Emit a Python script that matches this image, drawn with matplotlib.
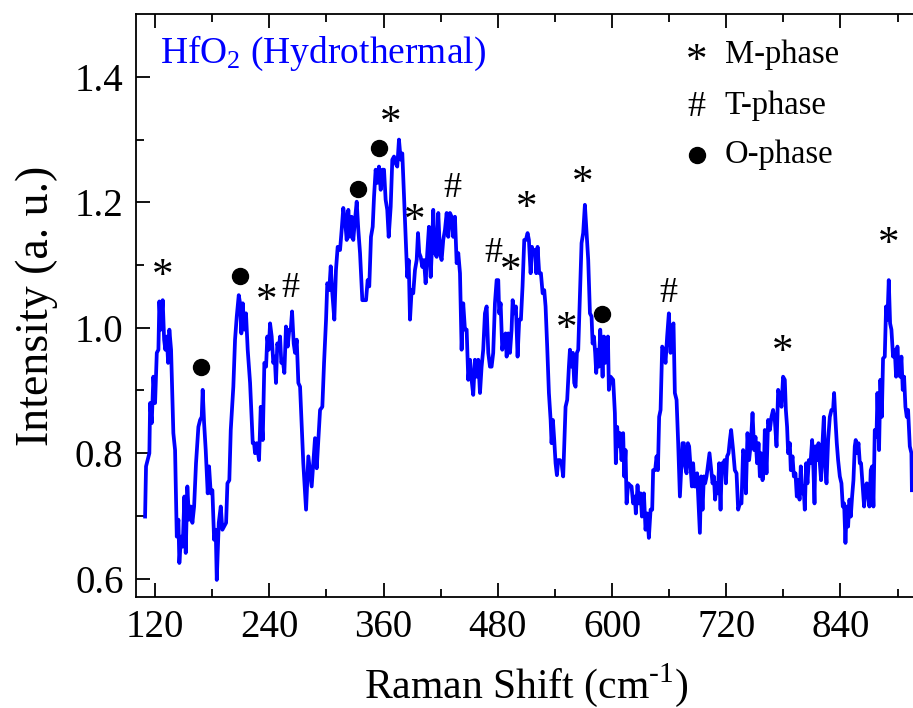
import numpy
import matplotlib.pyplot as plt

plt.rcParams['font.family'] = ['Liberation Serif', 'DejaVu Serif']
plt.rcParams['mathtext.fontset'] = 'custom'
plt.rcParams['mathtext.rm'] = 'Liberation Serif'

## spectrum (Raman shift in cm-1, intensity in a. u.)

shift = [
    109.5, 110.5, 114.0, 114.8, 116.5, 118.2, 120.0, 121.8, 123.5, 124.5, 126.0, 128.0, 129.5, 130.8,
    132.3, 133.7, 135.0, 136.8, 139.2, 141.0, 142.8, 144.5, 145.5, 147.3, 149.0, 150.8, 152.2, 153.9,
    155.7, 157.5, 159.2, 161.0, 163.0, 165.5, 167.3, 169.0, 170.0, 171.5, 173.2, 175.3, 176.7, 178.5,
    180.2, 182.0, 183.7, 184.8, 186.9, 189.0, 190.7, 192.5, 194.6, 196.0, 198.0, 199.5, 202.2, 204.0,
    205.8, 207.9, 209.3, 210.6, 212.1, 213.8, 215.5, 217.3, 219.8, 221.5, 222.6, 224.0, 225.0, 226.8,
    229.2, 231.0, 233.1, 234.8, 236.6, 237.9, 239.4, 240.8, 242.5, 244.2, 245.7, 247.0, 248.4, 249.9,
    251.3, 252.6, 254.1, 255.8, 257.5, 259.3, 261.0, 262.5, 263.9, 265.6, 267.0, 268.8, 270.5,
    272.3, 275.7, 278.6, 281.0, 284.5, 288.0, 289.8, 293.3, 295.7, 297.5, 299.6, 300.9, 303.0, 304.5,
    306.2, 308.3, 310.0, 311.8, 314.3, 316.0, 317.7, 319.5, 321.3, 323.0, 324.8, 326.5, 328.2, 330.0,
    331.8, 333.5, 335.3, 337.7, 339.8, 341.6, 343.3, 345.0, 346.8, 348.6, 350.0, 351.7, 353.4, 355.2,
    357.0, 358.7, 360.5, 362.2, 363.9, 365.4, 367.5, 369.2, 371.0, 372.7, 374.4, 376.2, 378.0, 379.7,
    381.5, 383.6, 384.9, 386.4, 387.8, 389.5, 391.2, 393.0, 394.8, 396.2, 397.5, 399.0, 400.7, 402.5,
    404.2, 405.9, 407.7, 409.5, 410.9, 412.2, 414.0, 415.8, 417.5, 419.3, 421.0, 422.7, 424.5, 426.3,
    428.0, 429.8, 431.5, 433.2, 435.0, 436.8, 438.5,
    440.3, 442.0, 443.7, 445.5, 447.3, 449.0, 450.8, 452.5, 454.2, 456.0, 457.8, 459.5, 461.3, 463.0,
    464.7, 466.5, 468.3, 470.0, 471.8, 473.5, 475.2, 477.0, 478.8, 480.5, 481.5, 483.0, 484.7, 486.5,
    488.2, 489.3, 491.0, 492.8, 494.5, 495.6, 497.3, 499.0, 500.8, 502.5, 504.3, 506.0, 507.8, 509.5,
    511.3, 512.7, 514.5, 515.9, 517.2, 519.0, 520.4, 521.8, 523.5, 525.3, 527.1, 528.8, 530.2, 531.9,
    533.7, 535.5, 536.5, 537.9, 539.3, 540.7, 542.1, 543.5, 545.3, 547.0, 548.7, 549.8, 551.2, 552.9,
    554.7, 555.8, 557.5, 558.9, 560.3, 561.7, 563.1, 564.5, 566.3, 568.0, 569.7, 571.5, 573.3, 575.0,
    576.8, 578.5, 579.6, 581.0, 582.3, 583.4, 584.8, 586.2, 587.6, 589.0, 590.1, 591.5, 592.8, 594.3,
    595.7, 596.7, 598.5, 601.2, 603.0, 604.0, 605.4, 606.9,
    608.3, 610.0, 611.7, 612.8, 614.2, 615.3, 617.0, 618.8, 620.5, 622.2, 624.0, 625.0, 626.8, 628.2,
    630.0, 631.4, 633.5, 635.2, 637.0, 638.7, 640.5, 642.2, 643.2, 645.3, 646.8, 648.2, 649.5, 651.0,
    652.7, 654.5, 656.2, 657.9, 659.7, 661.5, 663.2, 664.6, 666.0, 667.8, 669.5, 671.3, 672.6, 674.0,
    675.5, 676.8, 678.3, 679.7, 681.0, 682.5, 683.9, 685.2, 686.7, 688.0, 689.4, 690.9, 692.3, 693.6,
    695.1, 696.5, 697.8, 699.3, 701.0, 702.4, 703.8, 705.6, 707.0, 708.3, 709.8, 711.2, 712.5, 714.0,
    715.4, 716.7, 718.2, 719.6, 720.9, 722.4, 723.8, 725.1, 727.2, 729.0, 730.8, 732.5, 734.3, 736.0,
    737.7, 739.5, 740.6, 742.3, 744.0, 745.8, 747.6, 749.3, 750.7, 752.4, 753.9, 755.3, 756.6, 758.1,
    759.5,
    760.5, 762.3, 764.0, 765.8, 767.5, 769.2, 771.0, 772.8, 774.5, 776.3, 778.0, 779.7, 781.5, 782.6,
    783.9, 785.0, 786.8, 787.8, 789.6, 791.0, 792.7, 794.1, 795.5, 797.0, 798.3, 799.7, 801.2, 802.5,
    803.9, 805.3, 806.7, 808.5, 810.2, 811.6, 812.7, 813.7, 815.4, 816.9, 818.3, 819.6, 821.1, 822.5,
    823.8, 825.3, 827.0, 828.8, 830.5, 832.2, 833.3, 834.7, 836.1, 837.5, 839.3, 841.0, 842.4, 843.8,
    845.2, 846.6, 848.0, 849.4, 850.8, 852.2, 853.6, 855.0, 856.0, 857.4, 858.9, 860.3, 861.6, 863.1,
    864.8, 866.2, 867.6, 869.0, 870.4, 871.8, 873.2, 874.6, 876.0, 877.8, 878.8, 880.5, 881.9, 883.4,
    884.7, 886.5, 887.9, 889.3, 890.7, 892.1, 893.5, 895.2, 897.0, 898.4, 899.8, 901.2, 902.6, 904.0,
    905.4, 906.8, 908.2, 909.6, 911.0, 912.8, 914.5, 915.0,
]

intensity = [
    0.699, 0.779, 0.800, 0.880, 0.848, 0.922, 0.880, 0.960, 0.965, 1.042, 0.997, 1.044, 0.981, 0.965,
    0.986, 0.944, 0.997, 0.965, 0.832, 0.805, 0.667, 0.694, 0.625, 0.667, 0.651, 0.731, 0.641, 0.747,
    0.694, 0.715, 0.689, 0.715, 0.784, 0.842, 0.853, 0.858, 0.901, 0.848, 0.805, 0.736, 0.779, 0.736,
    0.741, 0.662, 0.678, 0.598, 0.689, 0.715, 0.678, 0.683, 0.689, 0.752, 0.757, 0.837, 0.906, 0.981,
    1.018, 1.052, 1.039, 0.991, 1.039, 0.997, 1.023, 0.965, 0.912, 0.853, 0.816, 0.816, 0.800, 0.816,
    0.789, 0.874, 0.821, 0.944, 0.938, 0.986, 0.965, 1.007, 0.986, 0.944, 0.954, 0.912, 0.975, 0.965,
    0.986, 0.944, 0.949, 0.928, 1.002, 0.970, 0.997, 0.997, 1.026, 0.975, 0.960, 0.981, 0.912,
    0.906, 0.784, 0.710, 0.795, 0.747, 0.824, 0.776, 0.869, 0.874, 0.944, 1.013, 1.071, 1.060, 1.098,
    1.055, 1.013, 1.092, 1.129, 1.124, 1.156, 1.191, 1.172, 1.140, 1.188, 1.145, 1.177, 1.140, 1.172,
    1.201, 1.156, 1.119, 1.044, 1.044, 1.044, 1.076, 1.066, 1.145, 1.161, 1.209, 1.252, 1.231, 1.257,
    1.220, 1.252, 1.252, 1.204, 1.188, 1.145, 1.193, 1.268, 1.273, 1.262, 1.257, 1.300, 1.268, 1.278,
    1.209, 1.129, 1.081, 1.108, 1.013, 1.060, 1.055, 1.092, 1.108, 1.151, 1.119, 1.113, 1.097, 1.108,
    1.071, 1.119, 1.161, 1.081, 1.129, 1.188, 1.119, 1.113, 1.183, 1.119, 1.108, 1.140, 1.156, 1.183,
    1.145, 1.183, 1.177, 1.145, 1.177, 1.103, 1.119,
    1.087, 0.965, 1.039, 0.997, 0.997, 0.917, 0.949, 0.917, 0.893, 0.949, 0.922, 0.949, 0.896, 0.938,
    0.965, 1.023, 1.034, 0.960, 0.938, 0.938, 0.960, 1.039, 1.076, 1.076, 1.023, 1.039, 0.965, 0.986,
    0.991, 0.954, 0.991, 0.960, 0.997, 1.044, 1.023, 1.034, 0.954, 1.013, 1.013, 1.066, 1.140, 1.140,
    1.151, 1.140, 1.087, 1.129, 1.119, 1.124, 1.087, 1.129, 1.087, 1.087, 1.055, 1.060, 1.034, 0.970,
    0.896, 0.853, 0.816, 0.853, 0.821, 0.784, 0.765, 0.789, 0.789, 0.784, 0.763, 0.811, 0.874, 0.885,
    0.938, 0.965, 0.938, 0.960, 0.912, 0.906, 0.960, 0.965, 1.050, 1.135, 1.151, 1.196, 1.151, 1.108,
    1.023, 1.018, 0.975, 0.986, 0.960, 0.928, 0.965, 0.938, 0.997, 0.960, 0.922, 0.986, 0.944, 0.960,
    0.986, 0.901, 0.922, 0.917, 0.864, 0.784, 0.842, 0.811,
    0.832, 0.789, 0.832, 0.763, 0.805, 0.720, 0.752, 0.749, 0.747, 0.720, 0.731, 0.704, 0.749, 0.720,
    0.736, 0.699, 0.736, 0.678, 0.704, 0.665, 0.710, 0.710, 0.773, 0.773, 0.795, 0.773, 0.858, 0.869,
    0.970, 0.965, 0.944, 0.986, 1.023, 0.960, 1.002, 1.007, 0.896, 0.885, 0.816, 0.731, 0.773, 0.816,
    0.816, 0.779, 0.768, 0.816, 0.811, 0.779, 0.747, 0.784, 0.747, 0.747, 0.768, 0.720, 0.673, 0.763,
    0.710, 0.763, 0.752, 0.763, 0.784, 0.800, 0.779, 0.752, 0.763, 0.726, 0.752, 0.736, 0.784, 0.710,
    0.784, 0.773, 0.789, 0.752, 0.795, 0.800, 0.821, 0.837, 0.805, 0.773, 0.768, 0.710, 0.720, 0.720,
    0.805, 0.795, 0.736, 0.832, 0.789, 0.816, 0.864, 0.805, 0.826, 0.784, 0.816, 0.763, 0.800, 0.757,
    0.773,
    0.837, 0.768, 0.853, 0.837, 0.858, 0.869, 0.853, 0.811, 0.901, 0.890, 0.874, 0.922, 0.917, 0.869,
    0.842, 0.800, 0.816, 0.773, 0.795, 0.763, 0.768, 0.731, 0.757, 0.726, 0.779, 0.736, 0.747, 0.710,
    0.784, 0.752, 0.789, 0.784, 0.821, 0.773, 0.720, 0.811, 0.789, 0.816, 0.784, 0.757, 0.816, 0.858,
    0.784, 0.752, 0.821, 0.858, 0.869, 0.869, 0.896, 0.853, 0.816, 0.789, 0.763, 0.752, 0.715, 0.720,
    0.657, 0.715, 0.683, 0.726, 0.699, 0.731, 0.757, 0.811, 0.821, 0.800, 0.816, 0.784, 0.784, 0.752,
    0.715, 0.747, 0.752, 0.731, 0.715, 0.773, 0.779, 0.715, 0.837, 0.826, 0.896, 0.805, 0.917, 0.858,
    0.951, 0.954, 1.034, 1.013, 1.076, 1.007, 0.997, 0.954, 0.965, 0.922, 0.970, 0.933, 0.922, 0.954,
    0.901, 0.922, 0.874, 0.858, 0.869, 0.811, 0.800, 0.741,
]

# phase marks above the peaks
mark_x = [128.0, 168.3, 209.3, 237.3, 261.8, 332.8, 355.2, 367.5, 393.0, 432.2,
          475.2, 493.8, 510.3, 552.3, 569.1, 589.0, 659.7, 779.7, 890.7]
mark_y = [1.082, 0.938, 1.083, 1.041, 1.063, 1.221, 1.286, 1.326, 1.169, 1.222,
          1.119, 1.090, 1.189, 0.997, 1.230, 1.022, 1.055, 0.960, 1.132]
mark_sym = ['*', 'o', 'o', '*', '#', 'o', 'o', '*', '*', '#',
            '#', '*', '*', '*', '*', 'o', '#', '*', '*']

legend_sym = ['*', '#', 'o']
legend_txt = ['M-phase', 'T-phase', 'O-phase']

fig = plt.figure(figsize=(9.13, 7.08), dpi=100)
ax = fig.add_axes([0.149, 0.157, 0.855, 0.823])

ax.plot(shift, intensity, color='#0000FF', lw=2.7)


def put_mark(x, y, s, trans):
    if s == 'o':
        ax.plot(x, y, 'o', color='black', ms=11.5, transform=trans)
    elif s == '*':
        ax.text(x, y, s, ha='center', va='center', fontsize=31, transform=trans)
    else:
        ax.text(x, y, s, ha='center', va='center', fontsize=26, transform=trans)


for x, y, s in zip(mark_x, mark_y, mark_sym):
    put_mark(x, y, s, ax.transData)

# legend drawn by hand
leg_y = [0.918, 0.840, 0.758]
leg_base = [0.916, 0.828, 0.744]
for i in range(0, 3):
    put_mark(0.718, leg_y[i], legend_sym[i], ax.transAxes)
    ax.text(0.754, leg_base[i], legend_txt[i], ha='left', va='baseline', fontsize=23.5,
            transform=ax.transAxes)

ax.text(0.031, 0.916, r'HfO$\mathregular{_2}$ (Hydrothermal)', color='#0000FF',
        fontsize=27, ha='left', va='baseline', transform=ax.transAxes)

ax.set_xlim(100, 920)
ax.set_ylim(0.571, 1.5)
ax.set_xticks(range(120, 960, 120))
ax.set_xticks(range(180, 960, 120), minor=True)
ax.set_yticks([0.6, 0.8, 1.0, 1.2, 1.4])
ax.set_yticks([0.7, 0.9, 1.1, 1.3], minor=True)
ax.set_yticklabels(['0.6', '0.8', '1.0', '1.2', '1.4'])
ax.tick_params(which='both', direction='in', top=True, right=False, width=1.3,
               labelsize=28, pad=9)
ax.tick_params(which='major', length=10)
ax.tick_params(which='minor', length=6)
for sp in ax.spines.values():
    sp.set_linewidth(1.3)
ax.spines['right'].set_visible(False)

ax.set_xlabel(r'Raman Shift (cm$^{\text{-1}}$)', fontsize=30, labelpad=11)
ax.set_ylabel('Intensity (a. u.)', fontsize=33, labelpad=12)

fig.savefig('out.png', dpi=100)
